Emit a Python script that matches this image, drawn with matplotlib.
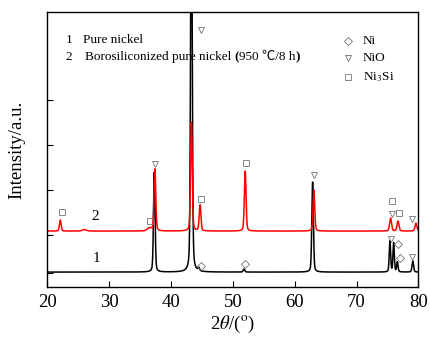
import numpy as np
import matplotlib
matplotlib.use("Agg")
from matplotlib import pyplot as plt

plt.rcParams['font.family'] = ['Liberation Serif', 'Noto Sans CJK SC']
plt.rcParams['mathtext.fontset'] = 'stix'

# 峰位/峰高(相对基线)/半宽
pure_base = 15
pure_pos = [37.3, 43.3, 44.5, 51.8, 62.9, 75.4, 76.0, 76.6, 79.1]
pure_h = [100, 420, 3, 3, 90, 31, 29, 10, 11]
pure_w = [0.15, 0.15, 0.15, 0.15, 0.15, 0.13, 0.13, 0.13, 0.15]

boro_base = 56
boro_pos = [22.1, 26.0, 36.5, 37.4, 43.3, 44.7, 52.0, 63.1, 75.5, 76.7, 79.6]
boro_h = [11, 1.5, 3, 62, 109, 26, 60, 41, 13, 10, 8]
boro_w = [0.16, 0.4, 0.4, 0.16, 0.16, 0.16, 0.16, 0.16, 0.18, 0.18, 0.18]

# 物相标记
nio_x = [37.4, 44.8, 63.1, 75.7, 79.0, 75.6, 78.9]
nio_y = [123, 257, 112, 73, 68, 48, 30]
ni3si_x = [22.3, 36.6, 44.8, 52.2, 75.7, 76.8]
ni3si_y = [75, 66, 88, 124, 86, 74]
ni_x = [44.8, 51.9, 76.7, 77.0]
ni_y = [21, 23, 43, 29]

x = np.linspace(20, 80, 4001)


def profile(base, pos, h, w):
    y = np.full_like(x, base, dtype=float)
    for p, hh, ww in zip(pos, h, w):
        d = (x - p) / ww
        y += hh * (0.3 / (1 + d ** 2) + 0.7 * np.exp(-np.log(2) * d ** 2))
    return y


fig = plt.figure(figsize=(4.3, 3.43), dpi=100)
ax = fig.add_axes([0.110, 0.163, 0.863, 0.802])

ax.plot(x, profile(pure_base, pure_pos, pure_h, pure_w), color='black', lw=1.1)
ax.plot(x, profile(boro_base, boro_pos, boro_h, boro_w), color='red', lw=1.1)

mk = dict(ls='none', mfc='none', mec='0.45', mew=0.6, ms=5)
ax.plot(nio_x, nio_y, marker='v', **mk)
ax.plot(ni3si_x, ni3si_y, marker='s', **mk)
ax.plot(ni_x, ni_y, marker='D', **dict(mk, ms=4))

# 图例
ax.plot([68.6], [246], marker='D', **dict(mk, ms=4))
ax.plot([68.6], [229], marker='v', **mk)
ax.plot([68.6], [210], marker='s', **mk)
ax.text(71.0, 246, 'Ni', fontsize=9.5, va='center')
ax.text(71.0, 229, 'NiO', fontsize=9.5, va='center')
ax.text(71.0, 210, r'Ni$_3$Si', fontsize=9.5, va='center')

ax.text(23.0, 247, '1', fontsize=9.5, va='center')
ax.text(25.8, 247, 'Pure nickel', fontsize=9.5, va='center')
ax.text(23.0, 230, '2', fontsize=9.5, va='center')
t = ax.text(26.1, 230, 'Borosiliconized pure nickel ', fontsize=9.5, va='center')
t = ax.annotate('(', xy=(1, 0), xycoords=t, va='bottom', fontsize=9.5, fontweight='bold')
t = ax.annotate('950 ℃/8 h', xy=(1, 0), xycoords=t, va='bottom', fontsize=9.5,
                family=['Liberation Serif', 'Noto Sans CJK SC'])
ax.annotate(')', xy=(1, 0), xycoords=t, va='bottom', fontsize=9.5, fontweight='bold')

ax.text(27.1, 71, '2', fontsize=11, va='center')
ax.text(27.4, 29, '1', fontsize=11, va='center')

ax.set_xlim(20, 80)
ax.set_ylim(0, 275)
ax.set_xticks([20, 30, 40, 50, 60, 70, 80])
ax.set_yticks([14, 52, 97, 142, 187])
ax.set_yticklabels([])
ax.tick_params(direction='in', length=4, width=0.8, labelsize=13.5)
ax.tick_params(axis='x', pad=5)
for s in ax.spines.values():
    s.set_linewidth(1.0)

ax.set_xlabel(r'2$\theta$/($^{\rm o}$)', fontsize=13.5, labelpad=2)
ax.set_ylabel('Intensity/a.u.', fontsize=13.5, labelpad=12)

fig.savefig('out.png', dpi=100)
